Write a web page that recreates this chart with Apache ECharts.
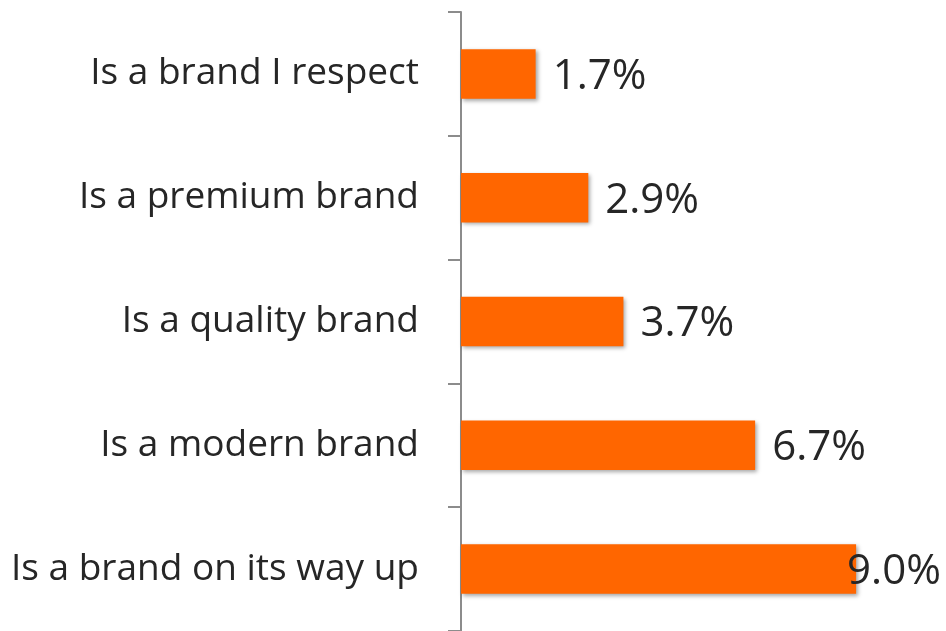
<!DOCTYPE html>
<html>
<head>
<meta charset="utf-8">
<script src="https://cdn.jsdelivr.net/npm/echarts@6/dist/echarts.min.js"></script>
<style>
  html, body { margin: 0; padding: 0; background: #ffffff; }
  #chart { width: 946px; height: 631px; }
</style>
</head>
<body>
<div id="chart"></div>
<script>
// Brand perception statements, listed top to bottom
const categories = [
  'Is a brand I respect',
  'Is a premium brand',
  'Is a quality brand',
  'Is a modern brand',
  'Is a brand on its way up'
];
// Share of respondents (%)
const values = [1.7, 2.9, 3.7, 6.7, 9.0];

const FONT = '"Open Sans"';

const chart = echarts.init(document.getElementById('chart'));

const seriesData = values.map((v, i) => {
  const item = { value: v };
  // the longest bar's label sits slightly over the bar end
  if (i === values.length - 1) {
    item.label = { distance: -9 };
  }
  return item;
});

chart.setOption({
  animation: false,
  grid: { left: 461, right: 46, top: 12, bottom: -4, containLabel: false },
  xAxis: {
    type: 'value',
    min: 0,
    max: 10,
    show: false
  },
  yAxis: {
    type: 'category',
    data: categories,
    inverse: true,
    axisLine: { show: true, lineStyle: { color: '#8c8c8c', width: 2 } },
    axisTick: { show: true, length: 13, lineStyle: { color: '#8c8c8c', width: 2 } },
    axisLabel: {
      fontFamily: FONT,
      fontSize: 37,
      color: '#262626',
      margin: 42
    },
    splitLine: { show: false }
  },
  series: [{
    type: 'bar',
    data: seriesData,
    barCategoryGap: '60%',
    itemStyle: {
      color: '#ff6600',
      shadowColor: 'rgba(0,0,0,0.35)',
      shadowBlur: 4,
      shadowOffsetX: 2,
      shadowOffsetY: 2
    },
    label: {
      show: true,
      position: 'right',
      distance: 17,
      offset: [0, 3],
      fontFamily: FONT,
      fontSize: 42,
      color: '#262626',
      formatter: p => p.value.toFixed(1) + '%'
    }
  }]
});
</script>
</body>
</html>
